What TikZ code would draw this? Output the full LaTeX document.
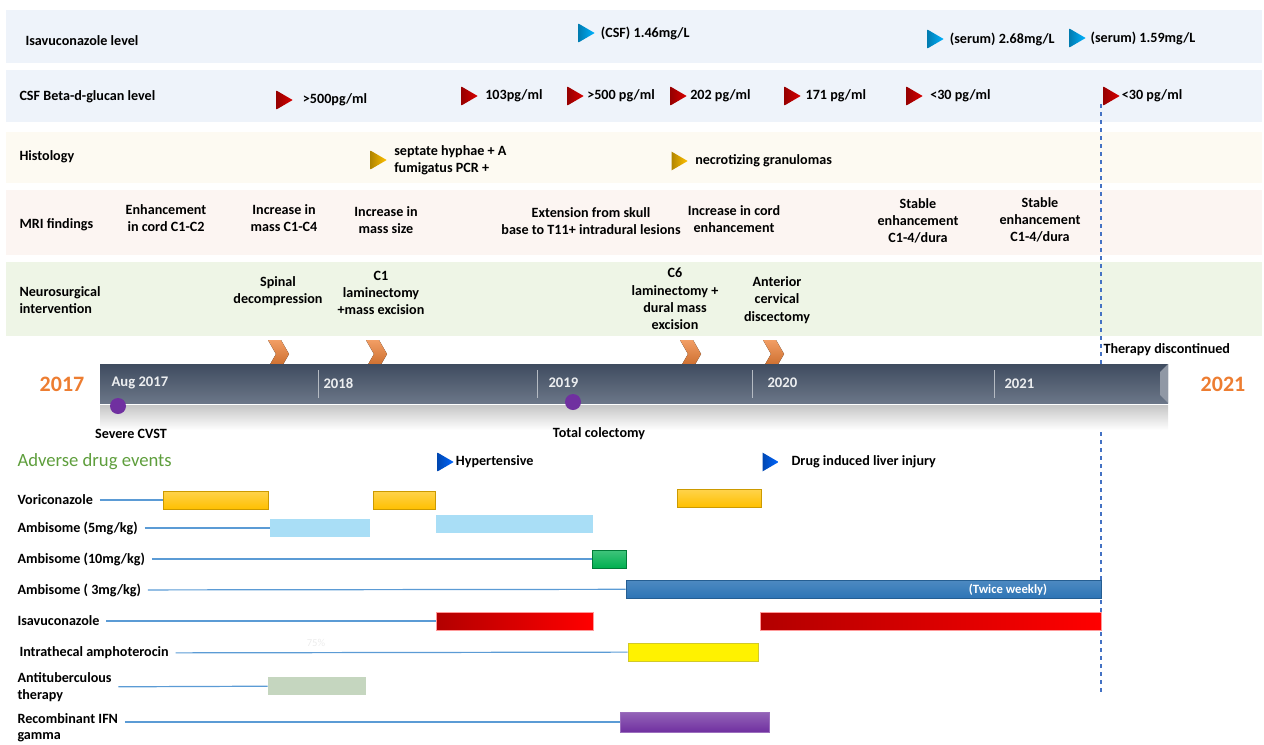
\documentclass[tikz,border=0pt]{standalone}
\usepackage{fontspec}
\setmainfont{Carlito}
\usetikzlibrary{positioning,shapes.geometric}

\definecolor{bandblue}{HTML}{EEF3FA}
\definecolor{bandcream}{HTML}{FDFAF2}
\definecolor{bandpink}{HTML}{FCF5F2}
\definecolor{bandgreen}{HTML}{EEF5E6}
\definecolor{slate}{HTML}{46546A}
\definecolor{orng}{HTML}{ED7D31}
\definecolor{lineblue}{HTML}{5B9BD5}
\definecolor{dashblue}{HTML}{4472C4}
\definecolor{gold}{HTML}{FFC000}
\definecolor{skyb}{HTML}{A9DEF6}
\definecolor{grn}{HTML}{00B050}
\definecolor{midblue}{HTML}{2E75B6}
\definecolor{sage}{HTML}{C5D6BF}
\definecolor{purp}{HTML}{7030A0}
\definecolor{aeg}{HTML}{5E9E3C}

\tikzset{every picture/.style={line width=0.75pt}}
\tikzset{
  lbl/.style={anchor=west, inner sep=0.75pt, align=left, font=\bfseries\fontsize{10.6}{13}\selectfont},
  cell/.style={inner sep=0.75pt, align=center, font=\bfseries\fontsize{10.6}{13}\selectfont},
  flag/.style={isosceles triangle, isosceles triangle apex angle=80, isosceles triangle stretches,
    minimum width=14pt, minimum height=12pt, inner sep=0pt, draw=none, left color=#1!70!black, right color=#1},
  rowline/.style={lineblue, line width=0.9pt, shorten <=4pt},
  bar/.style={rectangle, inner sep=0pt, minimum height=13.5pt, line width=0.5pt},
  yr/.style={font=\bfseries\fontsize{16.5}{18}\selectfont, text=orng},
  tick/.style={font=\bfseries\fontsize{11}{12}\selectfont, text=white!90!slate, anchor=west, inner sep=0.75pt},
  chev/.pic={\fill[top color=orng!75!white, bottom color=orng!85!black] (-10,-14) -- (3,-14) -- (11,0) -- (3,14) -- (-10,14) -- (-2,0) -- cycle;}
}
\newcommand{\drugbar}[5]{%
  \pgfmathsetmacro{\bw}{0.75*(#3-#2)}%
  \node[bar, #5, minimum width=\bw pt] (#1) at ({(#2+#3)/2},#4) {};%
}

\begin{document}
\begin{tikzpicture}[x=0.75pt,y=0.75pt,yscale=-1]
\useasboundingbox (0,0) rectangle (1264,744);
%Shape: Bands
\fill[bandblue] (6,10) rectangle (1262,63);
\fill[bandblue] (6,70) rectangle (1262,122);
\fill[bandcream] (6,132) rectangle (1262,183);
\fill[bandpink] (6,190) rectangle (1262,255);
\fill[bandgreen] (6,262) rectangle (1262,336);

% Therapy stop line
\coordinate (dtop) at (1101,104);
\coordinate (dbot) at (1101,695);
\draw[dashblue, dashed, line width=0.9pt] (dtop) -- (dbot);

% Row titles
\node[lbl] (tisa) at (24,41) {Isavuconazole level};
\node[lbl] (tcsf) at (18,97) {CSF Beta-d-glucan level};
\node[lbl] (thist) at (18,157) {Histology};
\node[lbl] (tmri) at (18,225) {MRI findings};
\node[lbl] (tneuro) at (18,300) {Neurosurgical\\intervention};

% Isavuconazole level markers
\node[flag=cyan!70!blue] (isa1) at (584,33) {};
\node[lbl, right=3pt of isa1] (isa1t) {(CSF) 1.46mg/L};
\node[flag=cyan!70!blue] (isa2) at (933,39) {};
\node[lbl, right=3pt of isa2] (isa2t) {(serum) 2.68mg/L};
\node[flag=cyan!70!blue] (isa3) at (1075,38) {};
\node[lbl, right=2pt of isa3] (isa3t) {(serum) 1.59mg/L};

% CSF Beta-d-glucan markers
\node[flag=red!85!black] (csf1) at (282,100) {};
\node[lbl, right=6pt of csf1] (csf1t) {>500pg/ml};
\node[flag=red!85!black] (csf2) at (467,96) {};
\node[lbl, right=4pt of csf2] (csf2t) {103pg/ml};
\node[flag=red!85!black] (csf3) at (573,96) {};
\node[lbl, right=1pt of csf3] (csf3t) {>500 pg/ml};
\node[flag=red!85!black] (csf4) at (676,96) {};
\node[lbl, right=1pt of csf4] (csf4t) {202 pg/ml};
\node[flag=red!85!black] (csf5) at (790,96) {};
\node[lbl, right=2pt of csf5] (csf5t) {171 pg/ml};
\node[flag=red!85!black] (csf6) at (912,96) {};
\node[lbl, right=4pt of csf6] (csf6t) {<30 pg/ml};
\node[flag=red!85!black] (csf7) at (1109,96) {};
\node[lbl, right=0pt of csf7] (csf7t) {<30 pg/ml};

% Histology markers
\node[flag=gold] (his1) at (376,160) {};
\node[lbl, right=4pt of his1] (his1t) {septate hyphae + A\\fumigatus PCR +};
\node[flag=gold] (his2) at (677,161) {};
\node[lbl, right=4pt of his2] (his2t) {necrotizing granulomas};

% MRI findings
\node[cell] (mri1) at (166,218) {Enhancement\\in cord C1-C2};
\node[cell] (mri2) at (284,218) {Increase in\\mass C1-C4};
\node[cell] (mri3) at (386,220) {Increase in\\mass size};
\node[cell] (mri4) at (591,221) {Extension from skull\\base to T11+ intradural lesions};
\node[cell] (mri5) at (734,219) {Increase in cord\\enhancement};
\node[cell] (mri6) at (918,221) {Stable\\enhancement\\C1-4/dura};
\node[cell] (mri7) at (1040,220) {Stable\\enhancement\\C1-4/dura};

% Neurosurgical intervention
\node[cell] (ns1) at (278,291) {Spinal\\decompression};
\node[cell] (ns2) at (381,293) {C1\\laminectomy\\+mass excision};
\node[cell] (ns3) at (675,299) {C6\\laminectomy +\\dural mass\\excision};
\node[cell] (ns4) at (777,300) {Anterior\\cervical\\discectomy};

% Chevrons
\pic at (278,354) {chev};
\pic at (376,354) {chev};
\pic at (690,354) {chev};
\pic at (773,354) {chev};

%Shape: Timeline shadow
\fill[top color=gray!45, bottom color=white] (100,405) rectangle (1168,430);
%Shape: Timeline bar
\node[rectangle, inner sep=0pt, minimum width=801pt, minimum height=29.25pt, top color=slate!90!black, bottom color=slate!80!white] (tl) at (634,383.5) {};
\fill[slate!60!white] (1168,364) -- (1168,403) -- (1160,395) -- (1160,372) -- cycle;
\draw[white!60!slate, line width=0.5pt] (318,370) -- (318,398) (537,370) -- (537,398) (752,370) -- (752,398) (994,370) -- (994,398);
\node[tick] (y17) at (110,383) {Aug 2017};
\node[tick] (y18) at (322,383) {2018};
\node[tick] (y19) at (547,383) {2019};
\node[tick] (y20) at (766,383) {2020};
\node[tick] (y21) at (1003,384) {2021};
\node[yr] (yl) at (62,384) {2017};
\node[yr] (yr) at (1223,384) {2021};

% Events under the timeline
\node[circle, fill=purp, inner sep=0pt, minimum size=12pt] (ev1) at (118,406) {};
\node[cell] (ev1t) at (131,434) {Severe CVST};
\node[circle, fill=purp, inner sep=0pt, minimum size=12pt] (ev2) at (573,402) {};
\node[cell] (ev2t) at (599,434) {Total colectomy};
\node[lbl] (stop) at (1102,350) {Therapy discontinued};

% Adverse drug events
\node[anchor=west, inner sep=0.75pt, text=aeg, font=\fontsize{14}{16}\selectfont] (ade) at (16,462) {Adverse drug events};
\node[flag=blue!60!cyan] (ad1) at (443,462) {};
\node[lbl, right=0pt of ad1] (ad1t) {Hypertensive};
\node[flag=blue!60!cyan] (ad2) at (768,462) {};
\node[lbl, right=8pt of ad2] (ad2t) {Drug induced liver injury};

% Drug labels
\node[lbl] (vori) at (16,500) {Voriconazole};
\node[lbl] (amb5) at (16,528) {Ambisome (5mg/kg)};
\node[lbl] (amb10) at (16,559) {Ambisome (10mg/kg)};
\node[lbl] (amb3) at (16,590) {Ambisome ( 3mg/kg)};
\node[lbl] (isa) at (16,621) {Isavuconazole};
\node[lbl] (ith) at (18,653) {Intrathecal amphoterocin};
\node[lbl] (atb) at (16,687) {Antituberculous\\therapy};
\node[lbl, font=\bfseries\fontsize{10.6}{12}\selectfont] (ifn) at (16,728) {Recombinant IFN\\gamma};
\node[text=gray!15, font=\fontsize{8}{10}\selectfont] (pct) at (316,643) {75\%};

% Drug bars
\drugbar{vori1}{163}{268}{500}{draw=gold!80!black, top color=gold!70!white, bottom color=gold}
\drugbar{vori2}{373}{435}{500}{draw=gold!80!black, top color=gold!70!white, bottom color=gold}
\drugbar{vori3}{677}{761}{498}{draw=gold!80!black, top color=gold!70!white, bottom color=gold}
\drugbar{amb5a}{270}{370}{528}{fill=skyb}
\drugbar{amb5b}{436}{593}{524}{fill=skyb}
\drugbar{amb10a}{592}{626}{559}{draw=grn!70!black, top color=grn!75!white, bottom color=grn}
\drugbar{amb3a}{626}{1101}{589}{draw=midblue!80!black, top color=midblue!85!white, bottom color=midblue}
\drugbar{isaa}{436}{593}{621}{draw=red!40, left color=red!70!black, right color=red}
\drugbar{isab}{760}{1101}{621}{draw=red!40, left color=red!70!black, right color=red}
\drugbar{itha}{628}{758}{652}{draw=yellow!80!black, fill=yellow}
\drugbar{atba}{268}{366}{686}{fill=sage}
\drugbar{ifna}{620}{769}{722}{draw=purp!70!white, top color=purp!75!white, bottom color=purp, minimum height=15pt}
\node[text=white, font=\bfseries\fontsize{9.5}{11}\selectfont, inner sep=0.75pt] (tw) at (1008,590) {(Twice weekly)};

% Connectors
\draw[rowline] (vori) -- (vori1);
\draw[rowline] (amb5) -- (amb5a);
\draw[rowline] (amb10) -- (amb10a);
\draw[rowline] (amb3) -- (amb3a);
\draw[rowline] (isa) -- (isaa);
\draw[rowline] (ith) -- (itha);
\draw[rowline] (atb) -- (atba);
\draw[rowline] (ifn.east |- ifna.west) -- (ifna.west);

\end{tikzpicture}
\end{document}
